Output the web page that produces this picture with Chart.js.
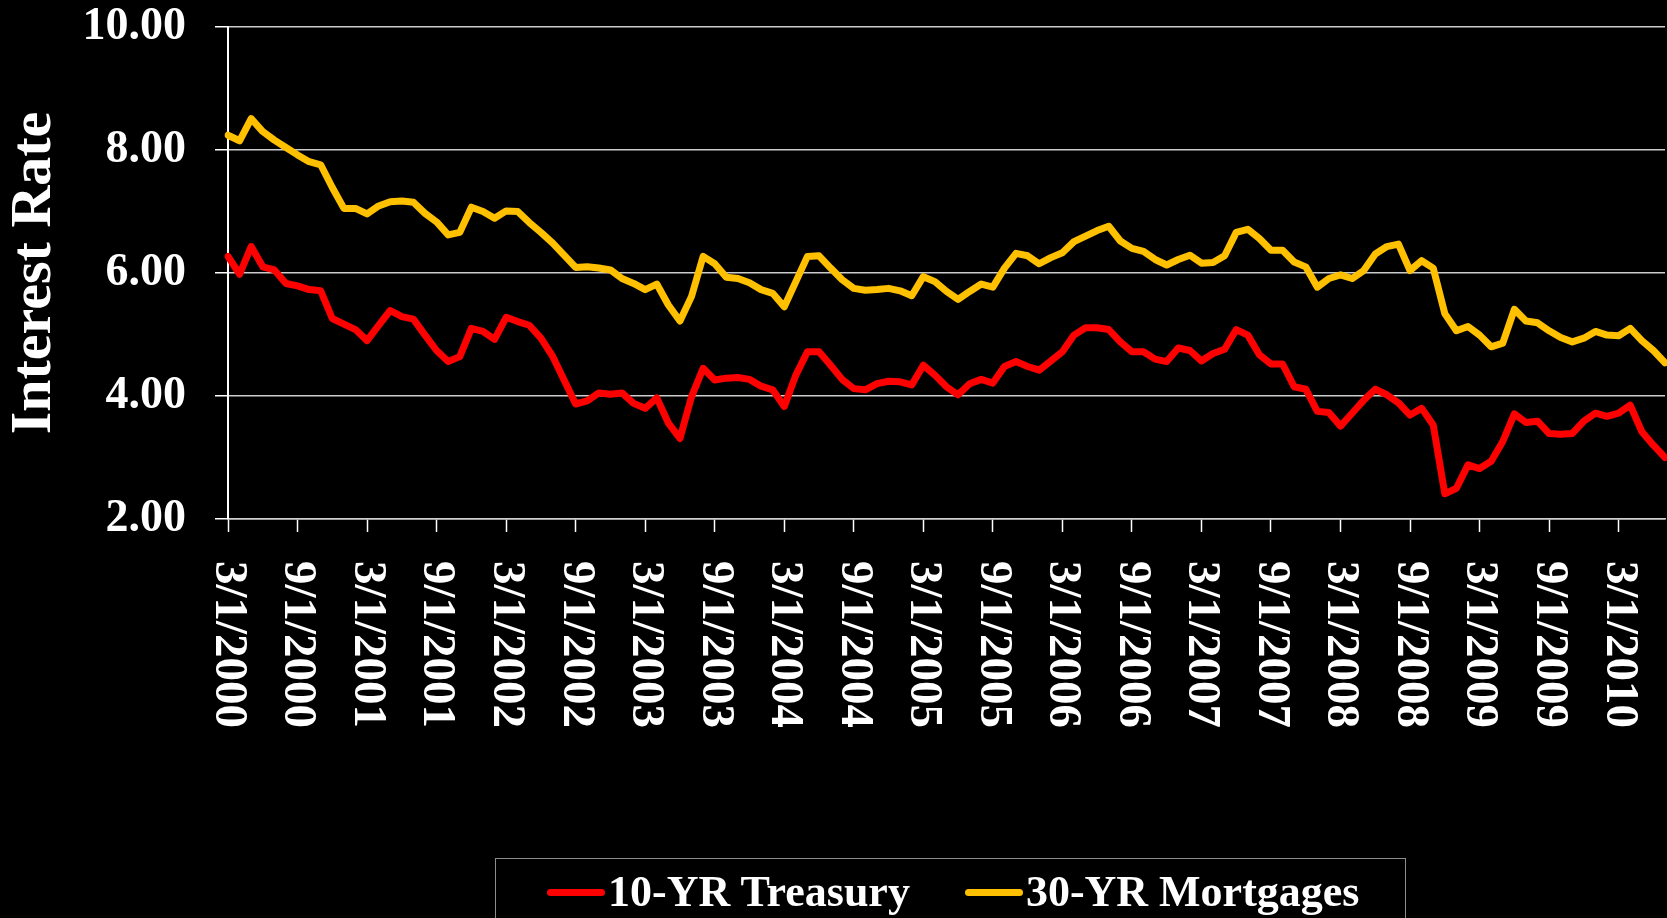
<!DOCTYPE html>
<html>
<head>
<meta charset="utf-8">
<title>10-YR Treasury vs 30-YR Mortgages</title>
<script src="https://cdn.jsdelivr.net/npm/chart.js@4.4.1/dist/chart.umd.min.js"></script>
<style>
    html, body {
        margin: 0;
        padding: 0;
        background: #000;
        overflow: hidden;
    }
    #wrap {
        position: relative;
        width: 1667px;
        height: 918px;
        background: #000;
    }
    #legend {
        position: absolute;
        left: 495px;
        top: 858px;
        width: 911px;
        height: 120px;
        box-sizing: border-box;
        border: 1.5px solid #8c8c8c;
        font: bold 44px "Liberation Serif", "Times New Roman", serif;
        color: #fff;
    }
    #legend .items {
        position: absolute;
        left: 51px;
        top: 11px;
        display: flex;
        align-items: center;
        height: 44px;
        line-height: 44px;
        white-space: nowrap;
    }
    #legend .swatch {
        width: 58px;
        height: 7px;
        border-radius: 4px;
        margin-right: 3px;
    }
    #legend .gap {
        width: 55px;
    }
</style>
</head>
<body>
<div id="wrap">
    <canvas id="rateChart"></canvas>
    <div id="legend"><div class="items"></div></div>
</div>
<script>
// monthly rates, 3/1/2000 .. 7/1/2010
const treasury = [
    6.27, 5.98, 6.43, 6.10, 6.05, 5.83, 5.79, 5.73, 5.71, 5.26,             // 2000
    5.17, 5.08, 4.90, 5.15, 5.39, 5.29, 5.25, 4.99, 4.74, 4.56, 4.64, 5.10, // 2001
    5.05, 4.92, 5.28, 5.21, 5.15, 4.94, 4.65, 4.26, 3.87, 3.92, 4.05, 4.03, // 2002
    4.05, 3.88, 3.80, 3.97, 3.56, 3.31, 3.99, 4.45, 4.26, 4.29, 4.30, 4.27, // 2003
    4.16, 4.10, 3.83, 4.34, 4.72, 4.72, 4.50, 4.27, 4.12, 4.10, 4.20, 4.24, // 2004
    4.23, 4.18, 4.50, 4.34, 4.15, 4.02, 4.20, 4.27, 4.21, 4.48, 4.56, 4.48, // 2005
    4.42, 4.57, 4.72, 4.99, 5.11, 5.11, 5.08, 4.88, 4.72, 4.72, 4.60, 4.56, // 2006
    4.78, 4.74, 4.57, 4.69, 4.76, 5.08, 4.99, 4.67, 4.52, 4.52, 4.15, 4.11, // 2007
    3.75, 3.73, 3.51, 3.72, 3.93, 4.11, 4.02, 3.89, 3.69, 3.80, 3.53, 2.41, // 2008
    2.50, 2.88, 2.82, 2.94, 3.26, 3.71, 3.57, 3.59, 3.39, 3.38, 3.39, 3.59, // 2009
    3.72, 3.67, 3.72, 3.85, 3.42, 3.20, 3.00                                // 2010
];

const mortgages = [
    8.24, 8.15, 8.51, 8.30, 8.16, 8.04, 7.92, 7.81, 7.76, 7.39,             // 2000
    7.05, 7.05, 6.96, 7.09, 7.16, 7.17, 7.15, 6.97, 6.83, 6.62, 6.66, 7.07, // 2001
    7.00, 6.89, 7.01, 7.00, 6.82, 6.66, 6.49, 6.29, 6.09, 6.10, 6.08, 6.05, // 2002
    5.91, 5.83, 5.73, 5.82, 5.48, 5.22, 5.62, 6.27, 6.15, 5.93, 5.91, 5.84, // 2003
    5.73, 5.67, 5.45, 5.86, 6.27, 6.28, 6.08, 5.89, 5.75, 5.72, 5.73, 5.75, // 2004
    5.71, 5.63, 5.94, 5.86, 5.70, 5.57, 5.70, 5.82, 5.77, 6.08, 6.32, 6.28, // 2005
    6.15, 6.25, 6.33, 6.51, 6.60, 6.69, 6.76, 6.52, 6.40, 6.35, 6.22, 6.13, // 2006
    6.22, 6.29, 6.16, 6.17, 6.28, 6.66, 6.71, 6.56, 6.37, 6.37, 6.18, 6.10, // 2007
    5.77, 5.91, 5.97, 5.91, 6.04, 6.31, 6.43, 6.47, 6.04, 6.20, 6.08, 5.34, // 2008
    5.06, 5.13, 4.99, 4.80, 4.86, 5.41, 5.22, 5.19, 5.06, 4.95, 4.88, 4.94, // 2009
    5.05, 4.99, 4.98, 5.10, 4.90, 4.74, 4.54                                // 2010
];

const seriesNames = ['10-YR Treasury', '30-YR Mortgages'];
const seriesColors = ['#ff0000', '#ffc000'];
const yTicks = [2, 4, 6, 8, 10];
const labelEvery = 6; // a date label every 6 months

// category labels: first of each month starting March 2000
const startYear = 2000;
const startMonth = 3;
const months = [];
for (let i = 0; i < treasury.length; i++) {
    const m = (startMonth - 1 + i) % 12 + 1;
    const y = startYear + Math.floor((startMonth - 1 + i) / 12);
    months.push(m + '/1/' + y);
}

const serif = '"Liberation Serif", "Times New Roman", serif';

// x labels read top-to-bottom (rotated clockwise), which chart.js ticks can't do
const verticalDateLabels = {
    id: 'verticalDateLabels',
    afterDraw(chart) {
        const xs = chart.scales.x;
        const ctx = chart.ctx;
        ctx.save();
        ctx.fillStyle = '#ffffff';
        ctx.font = 'bold 47px ' + serif;
        ctx.textAlign = 'left';
        ctx.textBaseline = 'middle';
        xs.ticks.forEach((tick, i) => {
            if (i % labelEvery !== 0) return;
            ctx.save();
            ctx.translate(xs.getPixelForTick(i), xs.top + 42);
            ctx.rotate(Math.PI / 2);
            ctx.fillText(months[i], 0, 0);
            ctx.restore();
        });
        ctx.restore();
    }
};

document.addEventListener('DOMContentLoaded', () => {
    const ctx = document.getElementById('rateChart').getContext('2d');

    new Chart(ctx, {
        type: 'line',
        data: {
            labels: months,
            datasets: [
                {
                    label: seriesNames[0],
                    data: treasury,
                    borderColor: seriesColors[0],
                    backgroundColor: seriesColors[0],
                    borderWidth: 7,
                    pointRadius: 0,
                    tension: 0,
                    borderJoinStyle: 'round',
                    borderCapStyle: 'round'
                },
                {
                    label: seriesNames[1],
                    data: mortgages,
                    borderColor: seriesColors[1],
                    backgroundColor: seriesColors[1],
                    borderWidth: 7,
                    pointRadius: 0,
                    tension: 0,
                    borderJoinStyle: 'round',
                    borderCapStyle: 'round'
                }
            ]
        },
        options: {
            responsive: true,
            maintainAspectRatio: false,
            animation: false,
            layout: {
                padding: { top: 0, right: 2, bottom: 0, left: 0 }
            },
            plugins: {
                legend: { display: false }, // html legend below
                tooltip: { enabled: false }
            },
            scales: {
                x: {
                    type: 'category',
                    offset: false,
                    grid: {
                        display: true,
                        drawOnChartArea: false,
                        drawTicks: true,
                        tickLength: 13,
                        tickWidth: 1.5,
                        tickColor: (c) => (c.index % labelEvery === 0 ? '#ffffff' : 'transparent')
                    },
                    border: { color: '#d0d0d0', width: 1.5 },
                    ticks: { display: false, autoSkip: false },
                    afterFit: (scale) => { scale.height = 399; }
                },
                y: {
                    min: 2,
                    max: 10,
                    afterBuildTicks: (scale) => {
                        scale.ticks = yTicks.map(v => ({ value: v }));
                    },
                    grid: {
                        color: '#cccccc',
                        lineWidth: 1.5,
                        tickLength: 13,
                        tickColor: '#ffffff',
                        tickWidth: 1.5
                    },
                    border: { color: '#ffffff', width: 2 },
                    ticks: {
                        color: '#ffffff',
                        padding: 29,
                        font: { family: serif, size: 46, weight: 'bold' },
                        callback: (v) => Number(v).toFixed(2)
                    },
                    title: {
                        display: true,
                        text: 'Interest Rate',
                        color: '#ffffff',
                        padding: 0,
                        font: { family: serif, size: 58, weight: 'bold' }
                    },
                    afterFit: (scale) => {
                        scale.width = 228;
                        // only half a label above the top gridline, like the original
                        scale.paddingTop = 27;
                        scale.paddingBottom = 0;
                    }
                }
            }
        },
        plugins: [verticalDateLabels]
    });

    // legend
    const items = document.querySelector('#legend .items');
    seriesNames.forEach((name, i) => {
        if (i > 0) {
            const gap = document.createElement('span');
            gap.className = 'gap';
            items.appendChild(gap);
        }
        const sw = document.createElement('span');
        sw.className = 'swatch';
        sw.style.background = seriesColors[i];
        items.appendChild(sw);
        const txt = document.createElement('span');
        txt.textContent = name;
        items.appendChild(txt);
    });
});
</script>
</body>
</html>
